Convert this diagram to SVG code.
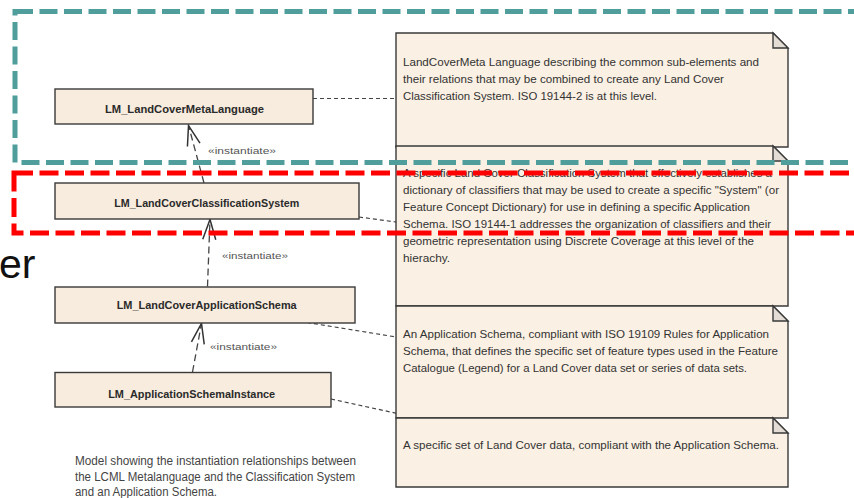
<svg xmlns="http://www.w3.org/2000/svg" width="854" height="498" viewBox="0 0 854 498">
<style>
.cls{fill:#F7ECDD;stroke:#3a3a3a;stroke-width:1.4}
.clt{font-family:"Liberation Sans",Arial,sans-serif;font-weight:bold;font-size:11px;fill:#2a2a2a;text-anchor:middle}
.note{fill:#FAF0E3;stroke:#3a3a3a;stroke-width:1.4}
.fold{fill:#E4DDD5;stroke:#3a3a3a;stroke-width:1.4}
.nt{font-family:"Liberation Sans",Arial,sans-serif;font-size:11.5px;fill:#333}
.lbl{font-family:"Liberation Sans",Arial,sans-serif;font-size:9.5px;fill:#555}
.dep{fill:none;stroke:#444;stroke-width:1.3;stroke-dasharray:7 4}
.lnk{fill:none;stroke:#444;stroke-width:1.2;stroke-dasharray:4 3}
.cap{font-family:"Liberation Sans",Arial,sans-serif;font-size:12px;fill:#444}
</style>
<defs>
<marker id="open" viewBox="-22 -9 24 18" refX="0" refY="0" markerWidth="24" markerHeight="18" markerUnits="userSpaceOnUse" orient="auto">
<path d="M-20,-6.5 L0,0 L-20,6.5" fill="none" stroke="#333" stroke-width="1.5" stroke-dasharray="none"/>
</marker>
</defs>
<rect width="854" height="498" fill="#ffffff"/>

<text x="-1" y="278" font-family="'Liberation Sans',Arial,sans-serif" font-size="41" fill="#111">er</text>

<g id="connectors">
<path class="dep" d="M204,183 L188.5,125.5" marker-end="url(#open)"/>
<path class="dep" d="M207.5,286.5 L210,219.5" marker-end="url(#open)"/>
<path class="dep" d="M192.5,372 L201.5,323.5" marker-end="url(#open)"/>
<path class="lnk" d="M313,98.5 L396,98.5"/>
<path class="lnk" d="M359,217 L396,222"/>
<path class="lnk" d="M307,322.5 L396,337"/>
<path class="lnk" d="M331,399 L418,418"/>
<text class="lbl" x="208" y="153.5" textLength="68" lengthAdjust="spacingAndGlyphs">«instantiate»</text>
<text class="lbl" x="222" y="258.5" textLength="66" lengthAdjust="spacingAndGlyphs">«instantiate»</text>
<text class="lbl" x="210" y="350" textLength="67" lengthAdjust="spacingAndGlyphs">«instantiate»</text>
</g>

<g id="LM_LandCoverMetaLanguage">
<rect class="cls" x="55" y="89" width="258" height="35"/>
<text class="clt" x="184.5" y="113" textLength="159" lengthAdjust="spacingAndGlyphs">LM_LandCoverMetaLanguage</text>
</g>
<g id="LM_LandCoverClassificationSystem">
<rect class="cls" x="55" y="183" width="304" height="36"/>
<text class="clt" x="206.7" y="206.5" textLength="185" lengthAdjust="spacingAndGlyphs">LM_LandCoverClassificationSystem</text>
</g>
<g id="LM_LandCoverApplicationSchema">
<rect class="cls" x="55" y="287" width="300" height="36"/>
<text class="clt" x="206.7" y="309" textLength="180" lengthAdjust="spacingAndGlyphs">LM_LandCoverApplicationSchema</text>
</g>
<g id="LM_ApplicationSchemaInstance">
<rect class="cls" x="55" y="372.5" width="276" height="34.5"/>
<text class="clt" x="191.7" y="398" textLength="167" lengthAdjust="spacingAndGlyphs">LM_ApplicationSchemaInstance</text>
</g>

<g id="note1">
<path class="note" d="M396,33 H773 L788,48 V147 H396 Z"/>
<path class="fold" d="M773,33 V48 H788 Z"/>
<text class="nt" x="403" y="65.5" textLength="356" lengthAdjust="spacingAndGlyphs">LandCoverMeta Language describing the common sub-elements and</text>
<text class="nt" x="403" y="82.5" textLength="321" lengthAdjust="spacingAndGlyphs">their relations that may be combined to create any Land Cover</text>
<text class="nt" x="403" y="99.5" textLength="254" lengthAdjust="spacingAndGlyphs">Classification System.  ISO 19144-2 is at this level.</text>
</g>
<g id="note2">
<path class="note" d="M396,146 H773 L788,161 V306 H396 Z"/>
<path class="fold" d="M773,146 V161 H788 Z"/>
<text class="nt" x="403" y="176.5" textLength="369" lengthAdjust="spacingAndGlyphs">A specific Land Cover Classification System that effectively establishes a</text>
<text class="nt" x="403" y="193.5" textLength="376" lengthAdjust="spacingAndGlyphs">dictionary of classifiers that may be used to create a specific "System" (or</text>
<text class="nt" x="403" y="210.5" textLength="347" lengthAdjust="spacingAndGlyphs">Feature Concept Dictionary) for use in defining a specific Application</text>
<text class="nt" x="403" y="227.5" textLength="368" lengthAdjust="spacingAndGlyphs">Schema.  ISO 19144-1 addresses the organization of classifiers and their</text>
<text class="nt" x="403" y="244.5" textLength="351" lengthAdjust="spacingAndGlyphs">geometric representation using Discrete Coverage at this level of the</text>
<text class="nt" x="403" y="261.5" textLength="47" lengthAdjust="spacingAndGlyphs">hierachy.</text>
</g>
<g id="note3">
<path class="note" d="M396,306 H773 L788,321 V418 H396 Z"/>
<path class="fold" d="M773,306 V321 H788 Z"/>
<text class="nt" x="403" y="337.5" textLength="366" lengthAdjust="spacingAndGlyphs">An Application Schema, compliant with ISO 19109 Rules for Application</text>
<text class="nt" x="403" y="354.5" textLength="375" lengthAdjust="spacingAndGlyphs">Schema, that defines the specific set of feature types used in the Feature</text>
<text class="nt" x="403" y="371.5" textLength="344" lengthAdjust="spacingAndGlyphs">Catalogue (Legend) for a Land Cover data set or series of data sets.</text>
</g>
<g id="note4">
<path class="note" d="M396,418 H773 L788,433 V487 H396 Z"/>
<path class="fold" d="M773,418 V433 H788 Z"/>
<text class="nt" x="403" y="448.5" textLength="376" lengthAdjust="spacingAndGlyphs">A specific set of Land Cover data, compliant with the Application Schema.</text>
</g>

<g id="caption">
<text class="cap" x="75" y="464.5" textLength="281" lengthAdjust="spacingAndGlyphs">Model showing the instantiation relationships between</text>
<text class="cap" x="75" y="480.5" textLength="280" lengthAdjust="spacingAndGlyphs">the LCML Metalanguage and the Classification System</text>
<text class="cap" x="75" y="495.5" textLength="142" lengthAdjust="spacingAndGlyphs">and an Application Schema.</text>
</g>

<g id="highlights" fill="none" stroke-width="5">
<rect x="15" y="11.5" width="880" height="151" stroke="#4F9E9B" stroke-dasharray="18 6.5"/>
<rect x="14" y="173" width="880" height="60" stroke="#FF0000" stroke-dasharray="19 6.5"/>
</g>
</svg>
